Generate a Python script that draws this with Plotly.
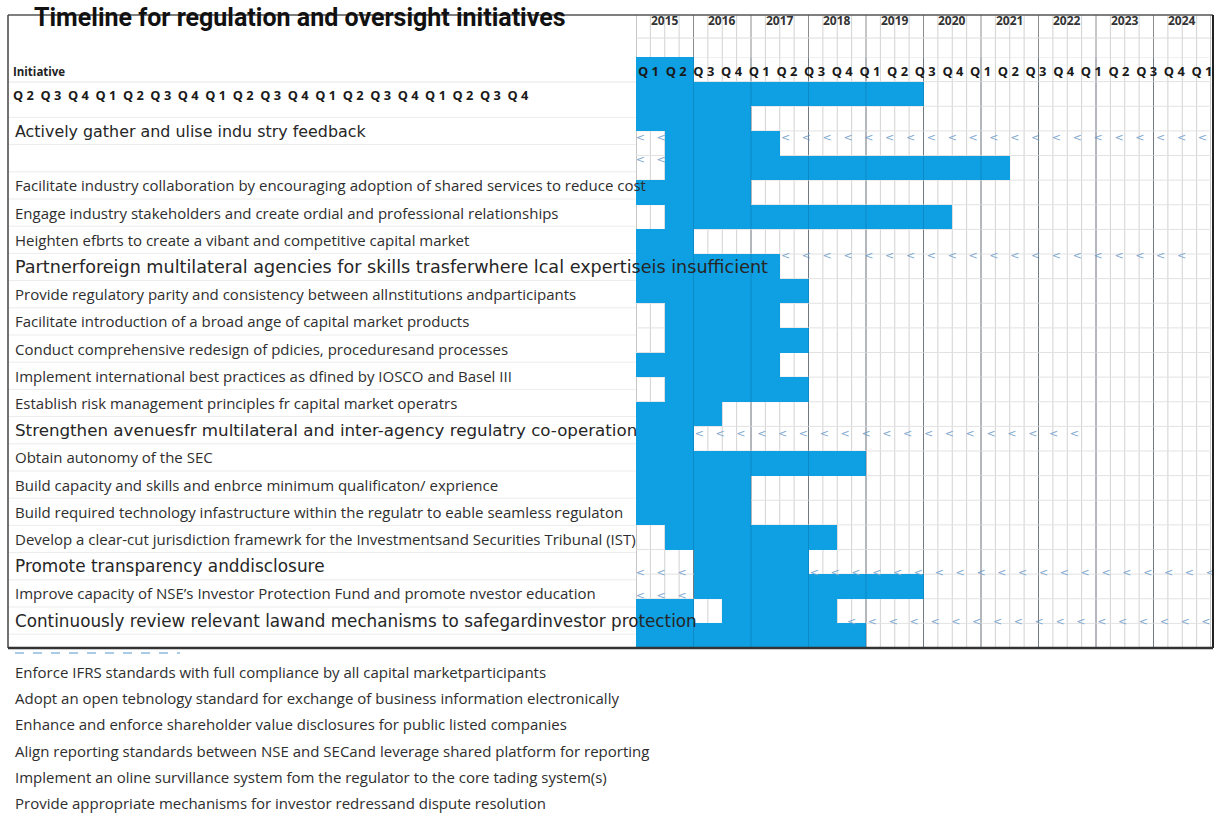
import numpy as np
import plotly.graph_objects as go

# ---------------------------------------------------------------- data
title = "Timeline for regulation and oversight initiatives"
years = [2015, 2016, 2017, 2018, 2019, 2020, 2021, 2022, 2023, 2024]
quarter_names = ["1", "2", "3", "4"]

initiatives = [
    "Actively gather and ulise indu stry feedback",
    "",
    "Facilitate industry collaboration by encouraging adoption of shared services to reduce cost",
    "Engage industry stakeholders and create ordial and professional relationships",
    "Heighten efbrts to create a vibant and competitive capital market",
    "Partnerforeign multilateral agencies for skills trasferwhere lcal expertiseis insufficient",
    "Provide regulatory parity and consistency between allnstitutions andparticipants",
    "Facilitate introduction of a broad ange of capital market products",
    "Conduct comprehensive redesign of pdicies, proceduresand processes",
    "Implement international best practices as dfined by IOSCO and Basel III",
    "Establish risk management principles fr capital market operatrs",
    "Strengthen avenuesfr multilateral and inter-agency regulatry co-operation",
    "Obtain autonomy of the SEC",
    "Build capacity and skills and enbrce minimum qualificaton/ exprience",
    "Build required technology infastructure within the regulatr to eable seamless regulaton",
    "Develop a clear-cut jurisdiction framewrk for the Investmentsand Securities Tribunal (IST)",
    "Promote transparency anddisclosure",
    "Improve capacity of NSE\u2019s Investor Protection Fund and promote nvestor education",
    "Continuously review relevant lawand mechanisms to safegardinvestor protection",
]

extra_initiatives = [
    "Enforce IFRS standards with full compliance by all capital marketparticipants",
    "Adopt an open tebnology standard for exchange of business information electronically",
    "Enhance and enforce shareholder value disclosures for public listed companies",
    "Align reporting standards between NSE and SECand leverage shared platform for reporting",
    "Implement an oline survillance system fom the regulator to the core tading system(s)",
    "Provide appropriate mechanisms for investor redressand dispute resolution",
]

# Gantt bars: timeline band, start quarter, end quarter (0 = 2015 Q1)
bar_band = [0, 1, 2, 3, 4, 5, 6, 7, 8, 9, 10, 11, 12, 13, 14, 15, 16, 17, 18, 19, 20, 21, 22, 22, 23]
bar_start = [0, 0, 0, 2, 2, 0, 2, 0, 0, 0, 2, 2, 0, 2, 0, 0, 0, 0, 0, 2, 4, 4, 0, 6, 0]
bar_end = [4, 20, 8, 10, 26, 8, 22, 4, 10, 12, 10, 12, 10, 12, 6, 4, 16, 8, 8, 14, 12, 20, 4, 14, 16]

# ongoing-activity "<" trails: band position, start quarter, end quarter
trail_band = [3.3, 3.3, 4.2, 8.1, 15.3, 20.95, 20.95, 21.9, 22.95]
trail_start = [0.3, 10.4, 0.3, 10.4, 4.4, 0.3, 12.4, 0.3, 15.0]
trail_end = [2.0, 40.8, 2.0, 38.3, 30.6, 3.6, 40.8, 3.6, 40.6]

# ---------------------------------------------------------------- layout constants
W, H = 1226, 813
X_LEFT, X_RIGHT = 636, 1211        # timeline area (px)
Y_TOP, Y_BOTTOM = 57, 648          # timeline bands (px)
FRAME_L, FRAME_R, FRAME_T = 8, 1213, 15
BLUE = "#0ea0e2"
TRAIL = "#7fa9cf"
N_Q = 4 * len(years)
N_BANDS = 24

large_rows = {0: 15.9, 5: 17.6, 11: 16.7, 16: 16.9, 18: 16.8}
LABEL_SIZE = 15


def px(x):
    return x / W


def py(y):
    return 1 - y / H


fig = go.Figure()

# bars
fig.add_trace(go.Bar(
    orientation="h",
    y=[b + 0.5 for b in bar_band],
    x=[e - s for s, e in zip(bar_start, bar_end)],
    base=bar_start,
    width=1.0,
    marker=dict(color=BLUE, line=dict(width=0)),
    hoverinfo="skip",
    showlegend=False,
))

# trails of "<" marks
tx, ty = [], []
for b, s, e in zip(trail_band, trail_start, trail_end):
    pts = np.arange(s, e, 1.45)
    tx.extend(pts.tolist())
    ty.extend([b] * len(pts))
fig.add_trace(go.Scatter(
    x=tx, y=ty, mode="text", text=["<"] * len(tx),
    textfont=dict(family="DejaVu Sans", size=11, color=TRAIL),
    cliponaxis=False, hoverinfo="skip", showlegend=False,
))

shapes = []
# quarter / year grid
for q in range(N_Q + 1):
    is_year = q % 4 == 0
    shapes.append(dict(
        type="line", xref="x", yref="paper", x0=q, x1=q,
        y0=py(Y_BOTTOM), y1=py(FRAME_T),
        line=dict(color="#8c8c8c" if is_year else "#d2d2d2", width=1),
        layer="below",
    ))
    if is_year and 0 < q < N_Q:
        shapes.append(dict(
            type="line", xref="x", yref="paper", x0=q, x1=q,
            y0=py(Y_BOTTOM), y1=py(Y_TOP),
            line=dict(color="rgba(0,40,80,0.18)", width=1), layer="above",
        ))
for b in range(N_BANDS + 1):
    shapes.append(dict(
        type="line", xref="x", yref="y", x0=0, x1=N_Q, y0=b, y1=b,
        line=dict(color="#e2e2e2", width=1), layer="below",
    ))
# header rule under the years
shapes.append(dict(type="line", xref="paper", yref="paper",
                   x0=px(X_LEFT), x1=px(FRAME_R), y0=py(38), y1=py(38),
                   line=dict(color="#dcdcdc", width=1), layer="below"))

# label-area row rules
ROW0, PITCH = 131, 27.2
for i in range(len(initiatives) + 1):
    yy = ROW0 + (i - 0.5) * PITCH
    shapes.append(dict(type="line", xref="paper", yref="paper",
                       x0=px(FRAME_L), x1=px(X_LEFT), y0=py(yy), y1=py(yy),
                       line=dict(color="#ececec", width=1), layer="below"))
shapes.append(dict(type="line", xref="paper", yref="paper",
                   x0=px(FRAME_L), x1=px(X_LEFT), y0=py(82), y1=py(82),
                   line=dict(color="#e6e6e6", width=1), layer="below"))

# frame
shapes.append(dict(type="line", xref="paper", yref="paper",
                   x0=px(FRAME_L), x1=px(FRAME_R), y0=py(FRAME_T), y1=py(FRAME_T),
                   line=dict(color="#555555", width=1.5)))
shapes.append(dict(type="line", xref="paper", yref="paper",
                   x0=px(FRAME_L), x1=px(FRAME_L), y0=py(Y_BOTTOM), y1=py(FRAME_T),
                   line=dict(color="#444444", width=1.5)))
shapes.append(dict(type="line", xref="paper", yref="paper",
                   x0=px(FRAME_R), x1=px(FRAME_R), y0=py(Y_BOTTOM), y1=py(FRAME_T),
                   line=dict(color="#222222", width=2)))
shapes.append(dict(type="line", xref="paper", yref="paper",
                   x0=px(FRAME_L), x1=px(FRAME_R), y0=py(Y_BOTTOM), y1=py(Y_BOTTOM),
                   line=dict(color="#333333", width=2.5)))
# faint trail fragment under the frame
shapes.append(dict(type="line", xref="paper", yref="paper",
                   x0=px(15), x1=px(180), y0=py(653), y1=py(653),
                   line=dict(color="#a9cbe6", width=2, dash="dash")))

annotations = []
annotations.append(dict(
    text=title, xref="paper", yref="paper", x=px(32), y=py(17),
    xanchor="left", yanchor="middle", showarrow=False,
    font=dict(family="Roboto", size=25, color="#111111", weight="bold"),
))
for i, yr in enumerate(years):
    annotations.append(dict(
        text=str(yr), xref="x", yref="paper", x=4 * i + 2, y=py(21),
        xanchor="center", yanchor="middle", showarrow=False,
        font=dict(family="Open Sans", size=12, color="#333333", weight="bold"),
    ))
annotations.append(dict(
    text="Initiative", xref="paper", yref="paper", x=px(11), y=py(71),
    xanchor="left", yanchor="middle", showarrow=False,
    font=dict(family="Open Sans", size=11.5, color="#222222", weight="bold"),
))

# quarter header, wrapped onto two lines
q_labels = ["Q\u00a0" + quarter_names[k % 4] for k in range(N_Q)]
sep = "\u00a0\u00a0"
annotations.append(dict(
    text=sep.join(q_labels[:21]), xref="x", yref="paper", x=0, y=py(71),
    xanchor="left", yanchor="middle", showarrow=False,
    font=dict(family="Open Sans", size=12.9, color="#1a1a1a", weight="bold"),
))
annotations.append(dict(
    text=sep.join(q_labels[21:]), xref="paper", yref="paper", x=px(11), y=py(95),
    xanchor="left", yanchor="middle", showarrow=False,
    font=dict(family="Open Sans", size=12.8, color="#1a1a1a", weight="bold"),
))

for i, lab in enumerate(initiatives):
    if not lab:
        continue
    if i in large_rows:
        font = dict(family="DejaVu Sans", size=large_rows[i], color="#262626")
    else:
        font = dict(family="Open Sans", size=LABEL_SIZE, color="#2e2e2e")
    annotations.append(dict(
        text=lab, xref="paper", yref="paper", x=px(13), y=py(ROW0 + i * PITCH),
        xanchor="left", yanchor="middle", showarrow=False, font=font,
    ))

ROW1, PITCH1 = 672, 26.2
for i, lab in enumerate(extra_initiatives):
    annotations.append(dict(
        text=lab, xref="paper", yref="paper", x=px(13), y=py(ROW1 + i * PITCH1),
        xanchor="left", yanchor="middle", showarrow=False,
        font=dict(family="Open Sans", size=LABEL_SIZE, color="#2e2e2e"),
    ))

fig.update_layout(
    width=W, height=H,
    margin=dict(l=0, r=0, t=0, b=0),
    paper_bgcolor="white", plot_bgcolor="rgba(0,0,0,0)",
    xaxis=dict(domain=[px(X_LEFT), px(X_RIGHT)], range=[0, N_Q],
               showgrid=False, zeroline=False, showticklabels=False, fixedrange=True),
    yaxis=dict(domain=[py(Y_BOTTOM), py(Y_TOP)], range=[N_BANDS, 0],
               showgrid=False, zeroline=False, showticklabels=False, fixedrange=True),
    shapes=shapes,
    annotations=annotations,
    bargap=0,
)

fig.write_html("out.html")
